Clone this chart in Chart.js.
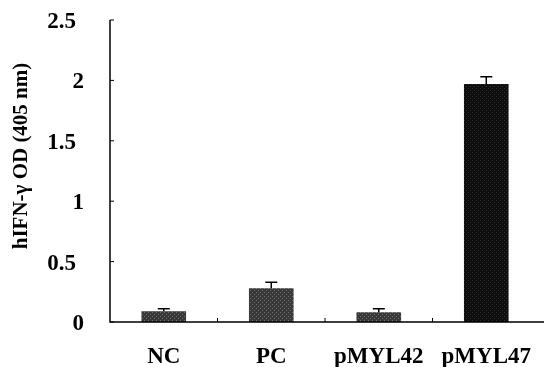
<!DOCTYPE html>
<html>
<head>
<meta charset="utf-8">
<script src="https://cdn.jsdelivr.net/npm/chart.js@4"></script>
<style>
  html, body { margin: 0; padding: 0; background: #fff; }
  #wrap { width: 544px; height: 367px; }
</style>
</head>
<body>
<div id="wrap"><canvas id="myChart" width="544" height="367"></canvas></div>
<script>
// data
const categories = ['NC', 'PC', 'pMYL42', 'pMYL47'];
const odValues = [0.09, 0.28, 0.08, 1.97];
const odErrors = [0.02, 0.05, 0.03, 0.06];
const yTicks = [0, 0.5, 1, 1.5, 2, 2.5];
const yTickLabels = ['0', '0.5', '1', '1.5', '2', '2.5'];

const FONT = "'Liberation Serif', 'Times New Roman', serif";

// dotted grey texture like the scanned bars
function makePattern(base, dot) {
    const c = document.createElement('canvas');
    c.width = 4; c.height = 4;
    const g = c.getContext('2d');
    g.fillStyle = base;
    g.fillRect(0, 0, 4, 4);
    g.fillStyle = dot;
    g.fillRect(0, 0, 1, 1);
    g.fillRect(2, 2, 1, 1);
    return g.createPattern(c, 'repeat');
}

const greyFill = makePattern('#383838', '#6e6e6e');
const darkFill = makePattern('#0e0e0e', '#2e2e2e');

const axesAndErrors = {
    id: 'axesAndErrors',
    afterDatasetsDraw(chart) {
        const ctx = chart.ctx;
        const x = chart.scales.x, y = chart.scales.y;
        const area = chart.chartArea;
        ctx.save();
        ctx.strokeStyle = '#000';

        // error bars (upper only)
        ctx.lineWidth = 1.5;
        const meta = chart.getDatasetMeta(0);
        meta.data.forEach((bar, i) => {
            const top = y.getPixelForValue(odValues[i] + odErrors[i]);
            const bt = y.getPixelForValue(odValues[i]);
            ctx.beginPath();
            ctx.moveTo(bar.x, bt);
            ctx.lineTo(bar.x, top);
            ctx.moveTo(bar.x - 6, top);
            ctx.lineTo(bar.x + 6, top);
            ctx.stroke();
        });

        // axes
        ctx.lineWidth = 1.5;
        ctx.beginPath();
        ctx.moveTo(area.left, y.getPixelForValue(2.5));
        ctx.lineTo(area.left, area.bottom);
        ctx.lineTo(544, area.bottom);
        ctx.stroke();

        // y ticks pointing inward
        ctx.lineWidth = 1;
        yTicks.forEach(v => {
            const py = y.getPixelForValue(v);
            ctx.beginPath();
            ctx.moveTo(area.left, py);
            ctx.lineTo(area.left + 4, py);
            ctx.stroke();
        });
        // x ticks between categories
        for (let i = 1; i < categories.length; i++) {
            const px = (x.getPixelForValue(i - 1) + x.getPixelForValue(i)) / 2;
            ctx.beginPath();
            ctx.moveTo(px, area.bottom);
            ctx.lineTo(px, area.bottom - 4);
            ctx.stroke();
        }

        // y tick labels
        ctx.fillStyle = '#000';
        ctx.font = 'bold 23px ' + FONT;
        ctx.textBaseline = 'middle';
        ctx.textAlign = 'right';
        yTicks.forEach((v, i) => {
            const lbl = yTickLabels[i];
            const right = lbl.indexOf('.') >= 0 ? 76 : 84;
            ctx.fillText(lbl, right, y.getPixelForValue(v) + 2);
        });

        // y title
        ctx.font = 'bold 21px ' + FONT;
        ctx.textAlign = 'center';
        ctx.translate(22, 156);
        ctx.rotate(-Math.PI / 2);
        ctx.fillText('hIFN-\u03b3 OD (405 nm)', 0, 0);
        ctx.restore();
    }
};

const ctx = document.getElementById('myChart').getContext('2d');
const myChart = new Chart(ctx, {
    type: 'bar',
    data: {
        labels: categories,
        datasets: [{
            label: 'hIFN-\u03b3',
            data: odValues,
            backgroundColor: [greyFill, greyFill, greyFill, darkFill],
            borderColor: '#000',
            borderWidth: 0,
            barPercentage: 1,
            categoryPercentage: 0.415
        }]
    },
    options: {
        responsive: false,
        animation: false,
        layout: { padding: { top: 20, right: 0, left: 0, bottom: 0 } },
        scales: {
            y: {
                min: 0,
                max: 2.5,
                afterFit(scale) { scale.width = 110; },
                ticks: { display: false, stepSize: 0.5 },
                grid: { display: false },
                border: { display: false }
            },
            x: {
                afterFit(scale) { scale.height = 45; },
                grid: { display: false },
                border: { display: false },
                ticks: {
                    color: '#000',
                    padding: 13,
                    font: { family: FONT, size: 23, weight: 'bold' }
                }
            }
        },
        plugins: {
            legend: { display: false },
            tooltip: { enabled: false }
        }
    },
    plugins: [axesAndErrors]
});
</script>
</body>
</html>
